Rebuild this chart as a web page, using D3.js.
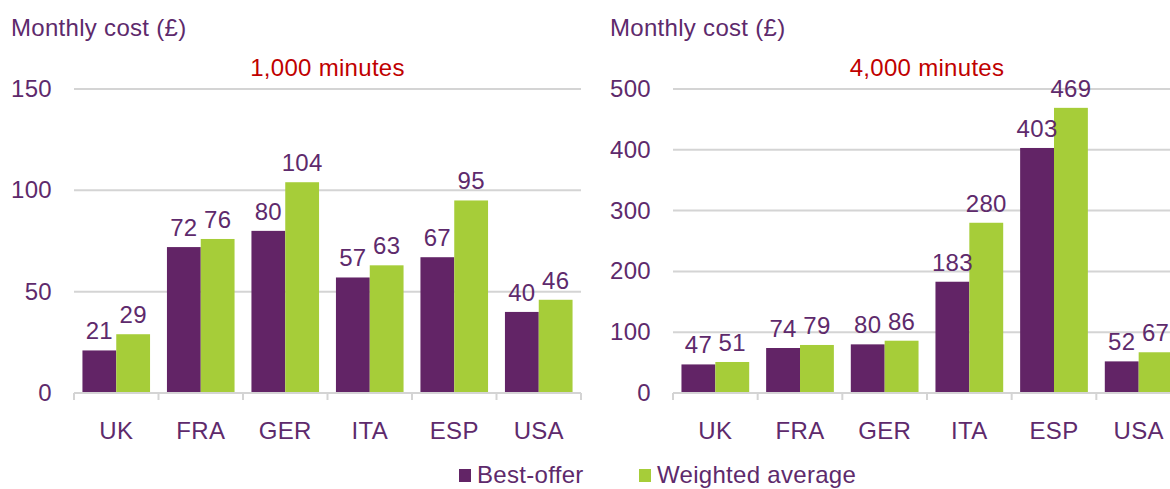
<!DOCTYPE html>
<html lang="en">
    <head>
        <title></title>
        <meta charset="UTF-8">
        <script src="https://d3js.org/d3.v7.min.js"></script>
    </head>
    <style>
        body { margin: 0; background: #fff; }
        svg text { font-family: "Liberation Sans", Arial, sans-serif; fill: #5e2a6c; letter-spacing: 0.3px; font-size: 24px; }
    </style>
    <body>
        <script>
            // data
            var countries = ["UK", "FRA", "GER", "ITA", "ESP", "USA"];
            var series = ["Best-offer", "Weighted average"];
            var bestOffer1000 = [21, 72, 80, 57, 67, 40];
            var weighted1000 = [29, 76, 104, 63, 95, 46];
            var bestOffer4000 = [47, 74, 80, 183, 403, 52];
            var weighted4000 = [51, 79, 86, 280, 469, 67];
            var ticks1000 = [0, 50, 100, 150];
            var ticks4000 = [0, 100, 200, 300, 400, 500];

            var width = 1170, height = 489;
            var colors = d3.scaleOrdinal().domain(series).range(["#622466", "#a6cd39"]);

            var svg = d3.select("body")
                    .append("svg")
                    .attr("width", width)
                    .attr("height", height);

            var plotTop = 89, plotBottom = 393;

            function drawPanel(x0, x1, title, best, weighted, ticks) {
                var g = svg.append("g");
                var y = d3.scaleLinear().domain([0, d3.max(ticks)]).range([plotBottom, plotTop]);
                var xBand = d3.scaleBand().domain(countries).range([x0, x1]).padding(0);
                var bw = xBand.bandwidth();
                var xInner = d3.scaleBand().domain(series).range([bw * 0.1, bw * 0.9]).padding(0);

                // gridlines
                g.selectAll(".grid")
                    .data(ticks.filter(function(t){ return t > 0; }))
                    .enter().append("line")
                    .attr("x1", x0).attr("x2", x1)
                    .attr("y1", function(d){ return y(d); })
                    .attr("y2", function(d){ return y(d); })
                    .attr("stroke", "#d4d4d4")
                    .attr("stroke-width", 2);

                // y labels
                g.selectAll(".ylab")
                    .data(ticks)
                    .enter().append("text")
                    .attr("x", x0 - 22)
                    .attr("y", function(d){ return y(d) + 8; })
                    .attr("text-anchor", "end")
                    .text(function(d){ return d; });

                // bars
                var rows = countries.map(function(c, i) {
                    return { country: c, values: [
                        { key: series[0], value: best[i] },
                        { key: series[1], value: weighted[i] }
                    ]};
                });

                var grp = g.selectAll(".cat")
                    .data(rows)
                    .enter().append("g")
                    .attr("transform", function(d){ return "translate(" + xBand(d.country) + ",0)"; });

                grp.selectAll("rect")
                    .data(function(d){ return d.values; })
                    .enter().append("rect")
                    .attr("x", function(d){ return xInner(d.key); })
                    .attr("width", xInner.bandwidth())
                    .attr("y", function(d){ return y(d.value); })
                    .attr("height", function(d){ return plotBottom - y(d.value); })
                    .attr("fill", function(d){ return colors(d.key); });

                grp.selectAll(".val")
                    .data(function(d){ return d.values; })
                    .enter().append("text")
                    .attr("x", function(d){ return xInner(d.key) + xInner.bandwidth() / 2; })
                    .attr("y", function(d){ return y(d.value) - 11; })
                    .attr("text-anchor", "middle")
                    .text(function(d){ return d.value; });

                // baseline + ticks
                g.append("line")
                    .attr("x1", x0).attr("x2", x1)
                    .attr("y1", plotBottom).attr("y2", plotBottom)
                    .attr("stroke", "#d4d4d4").attr("stroke-width", 2);
                var edges = countries.map(function(c){ return xBand(c); }).concat([x1]);
                g.selectAll(".tick")
                    .data(edges)
                    .enter().append("line")
                    .attr("x1", function(d){ return d; }).attr("x2", function(d){ return d; })
                    .attr("y1", plotBottom).attr("y2", plotBottom + 7)
                    .attr("stroke", "#d4d4d4").attr("stroke-width", 2);

                // category labels
                g.selectAll(".xlab")
                    .data(countries)
                    .enter().append("text")
                    .attr("x", function(d){ return xBand(d) + bw / 2; })
                    .attr("y", 439)
                    .attr("text-anchor", "middle")
                    .text(function(d){ return d; });

                // axis title
                g.append("text")
                    .attr("x", x0 - 63)
                    .attr("y", 36)
                    .text("Monthly cost (£)");

                // panel title
                g.append("text")
                    .attr("x", (x0 + x1) / 2)
                    .attr("y", 76)
                    .attr("text-anchor", "middle")
                    .style("fill", "#c00000")
                    .text(title);
            }

            drawPanel(74, 581, "1,000 minutes", bestOffer1000, weighted1000, ticks1000);
            drawPanel(673, 1181, "4,000 minutes", bestOffer4000, weighted4000, ticks4000);

            // legend
            var legendX = [459, 639];
            var legend = svg.selectAll(".legend")
                    .data(series)
                    .enter().append("g")
                    .attr("transform", function(d, i){ return "translate(" + legendX[i] + ",469)"; });
            legend.append("rect")
                    .attr("width", 12).attr("height", 13)
                    .attr("fill", function(d){ return colors(d); });
            legend.append("text")
                    .attr("x", 18).attr("y", 14)
                    .text(function(d){ return d; });
        </script>
    </body>
</html>
